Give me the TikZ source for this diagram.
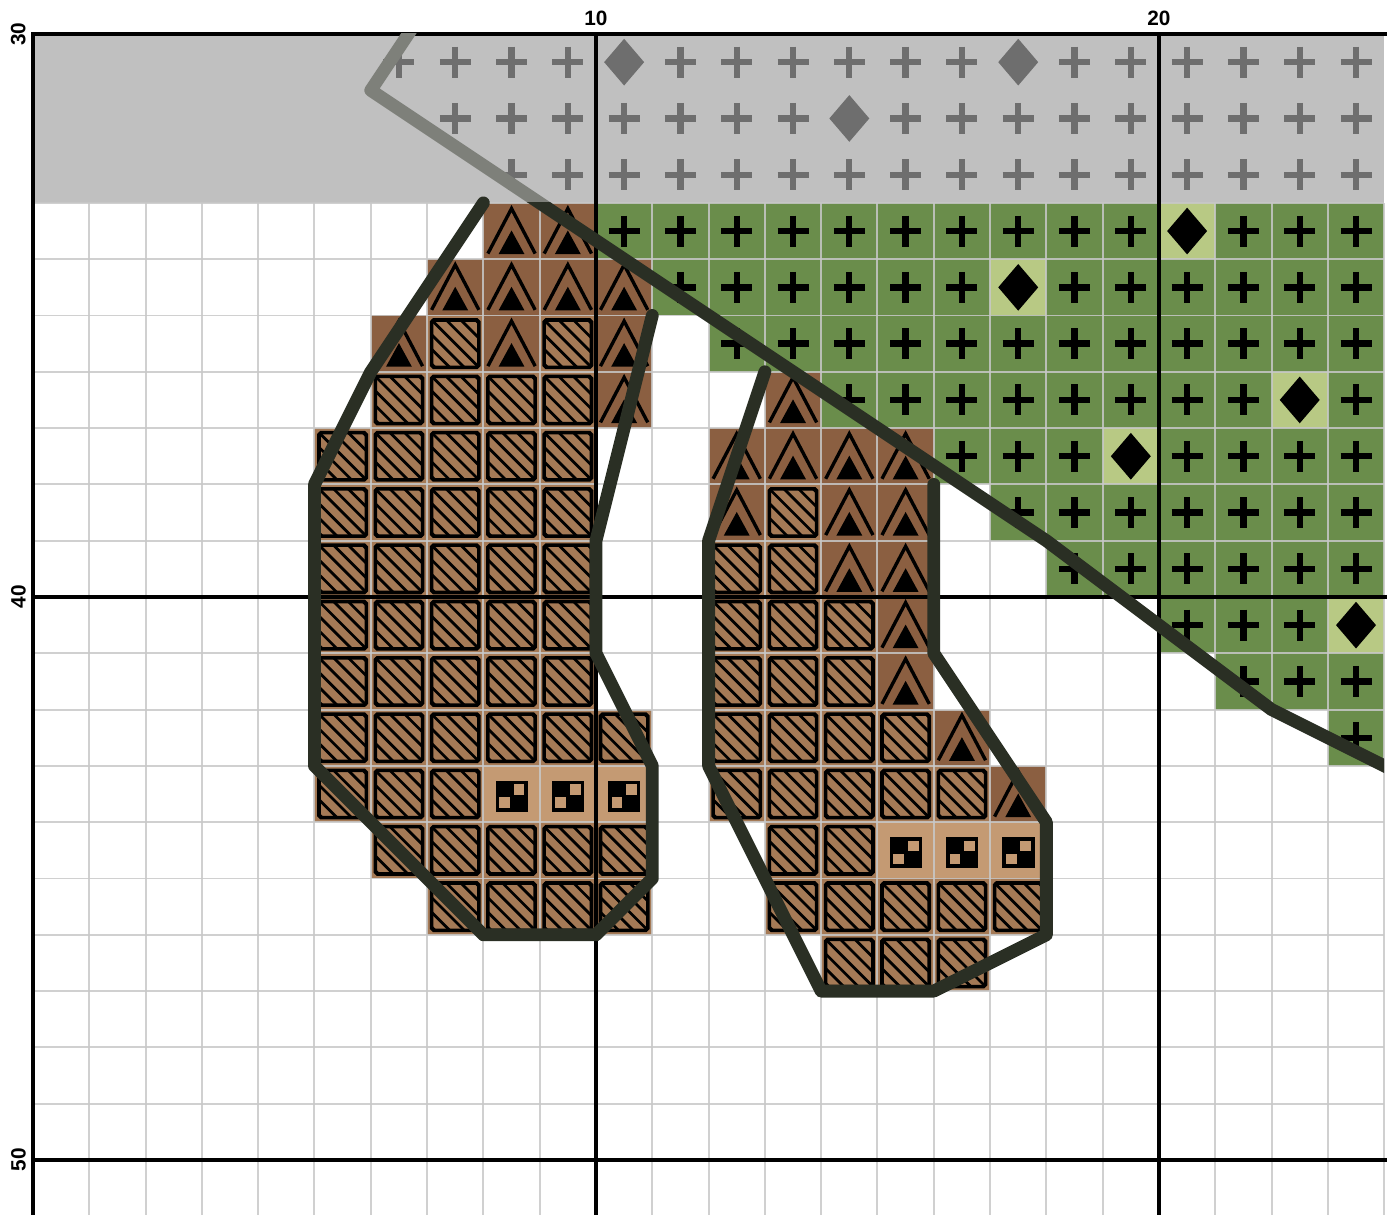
\documentclass[tikz,border=0pt]{standalone}
\usepackage{fontspec}
\setmainfont{Liberation Sans}
\usepackage{xcolor}
\definecolor{chartgrey}{HTML}{C0C0C0}
\definecolor{fadedsym}{HTML}{6E6E6E}
\definecolor{gridgrey}{HTML}{C8C8C8}
\definecolor{leafgreen}{HTML}{6A8D4B}
\definecolor{lightleaf}{HTML}{B8C984}
\definecolor{barkdark}{HTML}{8B5F41}
\definecolor{barkmid}{HTML}{A57A56}
\definecolor{barktan}{HTML}{C49A73}
\definecolor{stitchdark}{HTML}{2A2F24}
\definecolor{stitchgrey}{HTML}{7E807A}
\tikzset{
  chart/.style={x=1cm, y=-1cm},
  minorgrid/.style={draw=gridgrey, line width=1pt, opacity=0.85},
  majorgrid/.style={draw=black, line width=2.4pt, line cap=rect},
  stitch/.style={draw=stitchdark, line width=6.5pt, line cap=round, line join=round},
  fadedstitch/.style={stitch, draw=stitchgrey},
  crossmark/.style={line width=3.2pt},
  axislabel/.style={font=\fontsize{10.5}{12}\selectfont\bfseries, inner sep=0pt}
}
% cell symbols, (#1,#2) = top left corner of the cell
\newcommand{\crossat}[3]{\draw[crossmark, draw=#3] (#1+0.225,#2+0.5) -- (#1+0.775,#2+0.5) (#1+0.5,#2+0.225) -- (#1+0.5,#2+0.775);}
\newcommand{\diamat}[3]{\fill[#3] (#1+0.5,#2+0.085) -- (#1+0.855,#2+0.5) -- (#1+0.5,#2+0.915) -- (#1+0.145,#2+0.5) -- cycle;}
\newcommand{\tentmark}[2]{%
  \draw[line width=1.7pt] (#1+0.08,#2+0.9) -- (#1+0.5,#2+0.1) -- (#1+0.92,#2+0.9);
  \fill (#1+0.27,#2+0.91) -- (#1+0.5,#2+0.49) -- (#1+0.73,#2+0.91) -- cycle;}
\newcommand{\hatchmark}[2]{%
  \begin{scope}
    \clip (#1+0.08,#2+0.08) rectangle (#1+0.92,#2+0.92);
    \foreach \hd in {-3,...,3} \draw[line width=1.4pt] (#1+\hd*0.26,#2) -- ++(1,1);
  \end{scope}
  \draw[line width=1.8pt, rounded corners=1pt] (#1+0.08,#2+0.08) rectangle (#1+0.92,#2+0.92);}
\newcommand{\checkmarkcell}[2]{%
  \fill (#1+0.22,#2+0.26) rectangle (#1+0.79,#2+0.82);
  \fill[barktan] (#1+0.54,#2+0.33) rectangle (#1+0.73,#2+0.52);
  \fill[barktan] (#1+0.28,#2+0.56) rectangle (#1+0.47,#2+0.75);}
% row/first col/last col runs and col/row cells
\def\greyruns{0/6/9,0/11/16,0/18/23,1/7/13,1/15/23,2/8/23}
\def\greyjewels{10/0,17/0,14/1}
\def\greenruns{3/10/19,3/21/23,4/11/16,4/18/23,5/12/23,6/14/21,6/23/23,7/16/18,7/20/23,8/17/23,9/18/23,10/20/22,11/21/23,12/23/23}
\def\greenjewels{20/3,17/4,22/6,19/7,23/10}
\def\tentcells{8/3,9/3,7/4,8/4,9/4,10/4,6/5,8/5,10/5,10/6,13/6,12/7,13/7,14/7,15/7,12/8,14/8,15/8,14/9,15/9,15/10,15/11,16/12,17/13}
\def\hatchruns{5/7/7,5/9/9,6/6/9,7/5/9,8/5/9,8/13/13,9/5/9,9/12/13,10/5/9,10/12/14,11/5/9,11/12/14,12/5/10,12/12/15,13/5/7,13/12/16,14/6/10,14/13/14,15/7/10,15/13/17,16/14/16}
\def\checkruns{13/8/10,14/15/17}

\begin{document}
\begin{tikzpicture}[chart]
  \useasboundingbox (-0.586,-0.604) rectangle (24.228,20.96);
  \clip (-0.586,-0.604) rectangle (24.228,20.96);
  % fills
  \fill[chartgrey] (0,0) rectangle (24,3);
  \foreach \ry/\ca/\cb in \greenruns {\foreach \cx in {\ca,...,\cb} {\fill[leafgreen] (\cx,\ry) rectangle ++(1,1);}}
  \foreach \cx/\ry in \greenjewels {\fill[lightleaf] (\cx,\ry) rectangle ++(1,1);}
  \foreach \cx/\ry in \tentcells {\fill[barkdark] (\cx,\ry) rectangle ++(1,1);}
  \foreach \ry/\ca/\cb in \hatchruns {\foreach \cx in {\ca,...,\cb} {\fill[barkmid] (\cx,\ry) rectangle ++(1,1);}}
  \foreach \ry/\ca/\cb in \checkruns {\foreach \cx in {\ca,...,\cb} {\fill[barktan] (\cx,\ry) rectangle ++(1,1);}}
  % grid
  \foreach \gx in {0,...,24} \draw[minorgrid] (\gx,3) -- (\gx,21);
  \foreach \gy in {3,...,21} \draw[minorgrid] (0,\gy) -- (24,\gy);
  % symbols
  \foreach \ry/\ca/\cb in \greyruns {\foreach \cx in {\ca,...,\cb} {\crossat{\cx}{\ry}{fadedsym}}}
  \foreach \cx/\ry in \greyjewels {\diamat{\cx}{\ry}{fadedsym}}
  \foreach \ry/\ca/\cb in \greenruns {\foreach \cx in {\ca,...,\cb} {\crossat{\cx}{\ry}{black}}}
  \foreach \cx/\ry in \greenjewels {\diamat{\cx}{\ry}{black}}
  \foreach \cx/\ry in \tentcells {\tentmark{\cx}{\ry}}
  \foreach \ry/\ca/\cb in \hatchruns {\foreach \cx in {\ca,...,\cb} {\hatchmark{\cx}{\ry}}}
  \foreach \ry/\ca/\cb in \checkruns {\foreach \cx in {\ca,...,\cb} {\checkmarkcell{\cx}{\ry}}}
  % every tenth line
  \foreach \gx in {0,10,20} \draw[majorgrid] (\gx,0) -- (\gx,21.5);
  \foreach \gy in {0,10,20} \draw[majorgrid] (0,\gy) -- (24,\gy);
  % backstitches
  \begin{scope}
    \clip (0,0) rectangle (24,3);
    \draw[fadedstitch] (7,-0.5) -- (6,1) -- (12,5) -- (18,9) -- (22,12) -- (26,14);
  \end{scope}
  \begin{scope}
    \clip (0,3) rectangle (24,21.5);
    \draw[stitch] (7,-0.5) -- (6,1) -- (12,5) -- (18,9) -- (22,12) -- (26,14);
  \end{scope}
  \draw[stitch] (8,3) -- (6,6) -- (5,8) -- (5,13) -- (8,16) -- (10,16) -- (11,15) -- (11,13) -- (10,11) -- (10,9) -- (11,5);
  \draw[stitch] (13,6) -- (12,9) -- (12,13) -- (14,17) -- (16,17) -- (18,16) -- (18,14) -- (16,11) -- (16,8);
  % labels
  \node[axislabel] (colten) at (10,-0.27) {10};
  \node[axislabel] (coltwenty) at (20,-0.27) {20};
  \node[axislabel, rotate=90] (rowthirty) at (-0.26,0) {30};
  \node[axislabel, rotate=90] (rowforty) at (-0.26,10) {40};
  \node[axislabel, rotate=90] (rowfifty) at (-0.26,20) {50};
\end{tikzpicture}
\end{document}
